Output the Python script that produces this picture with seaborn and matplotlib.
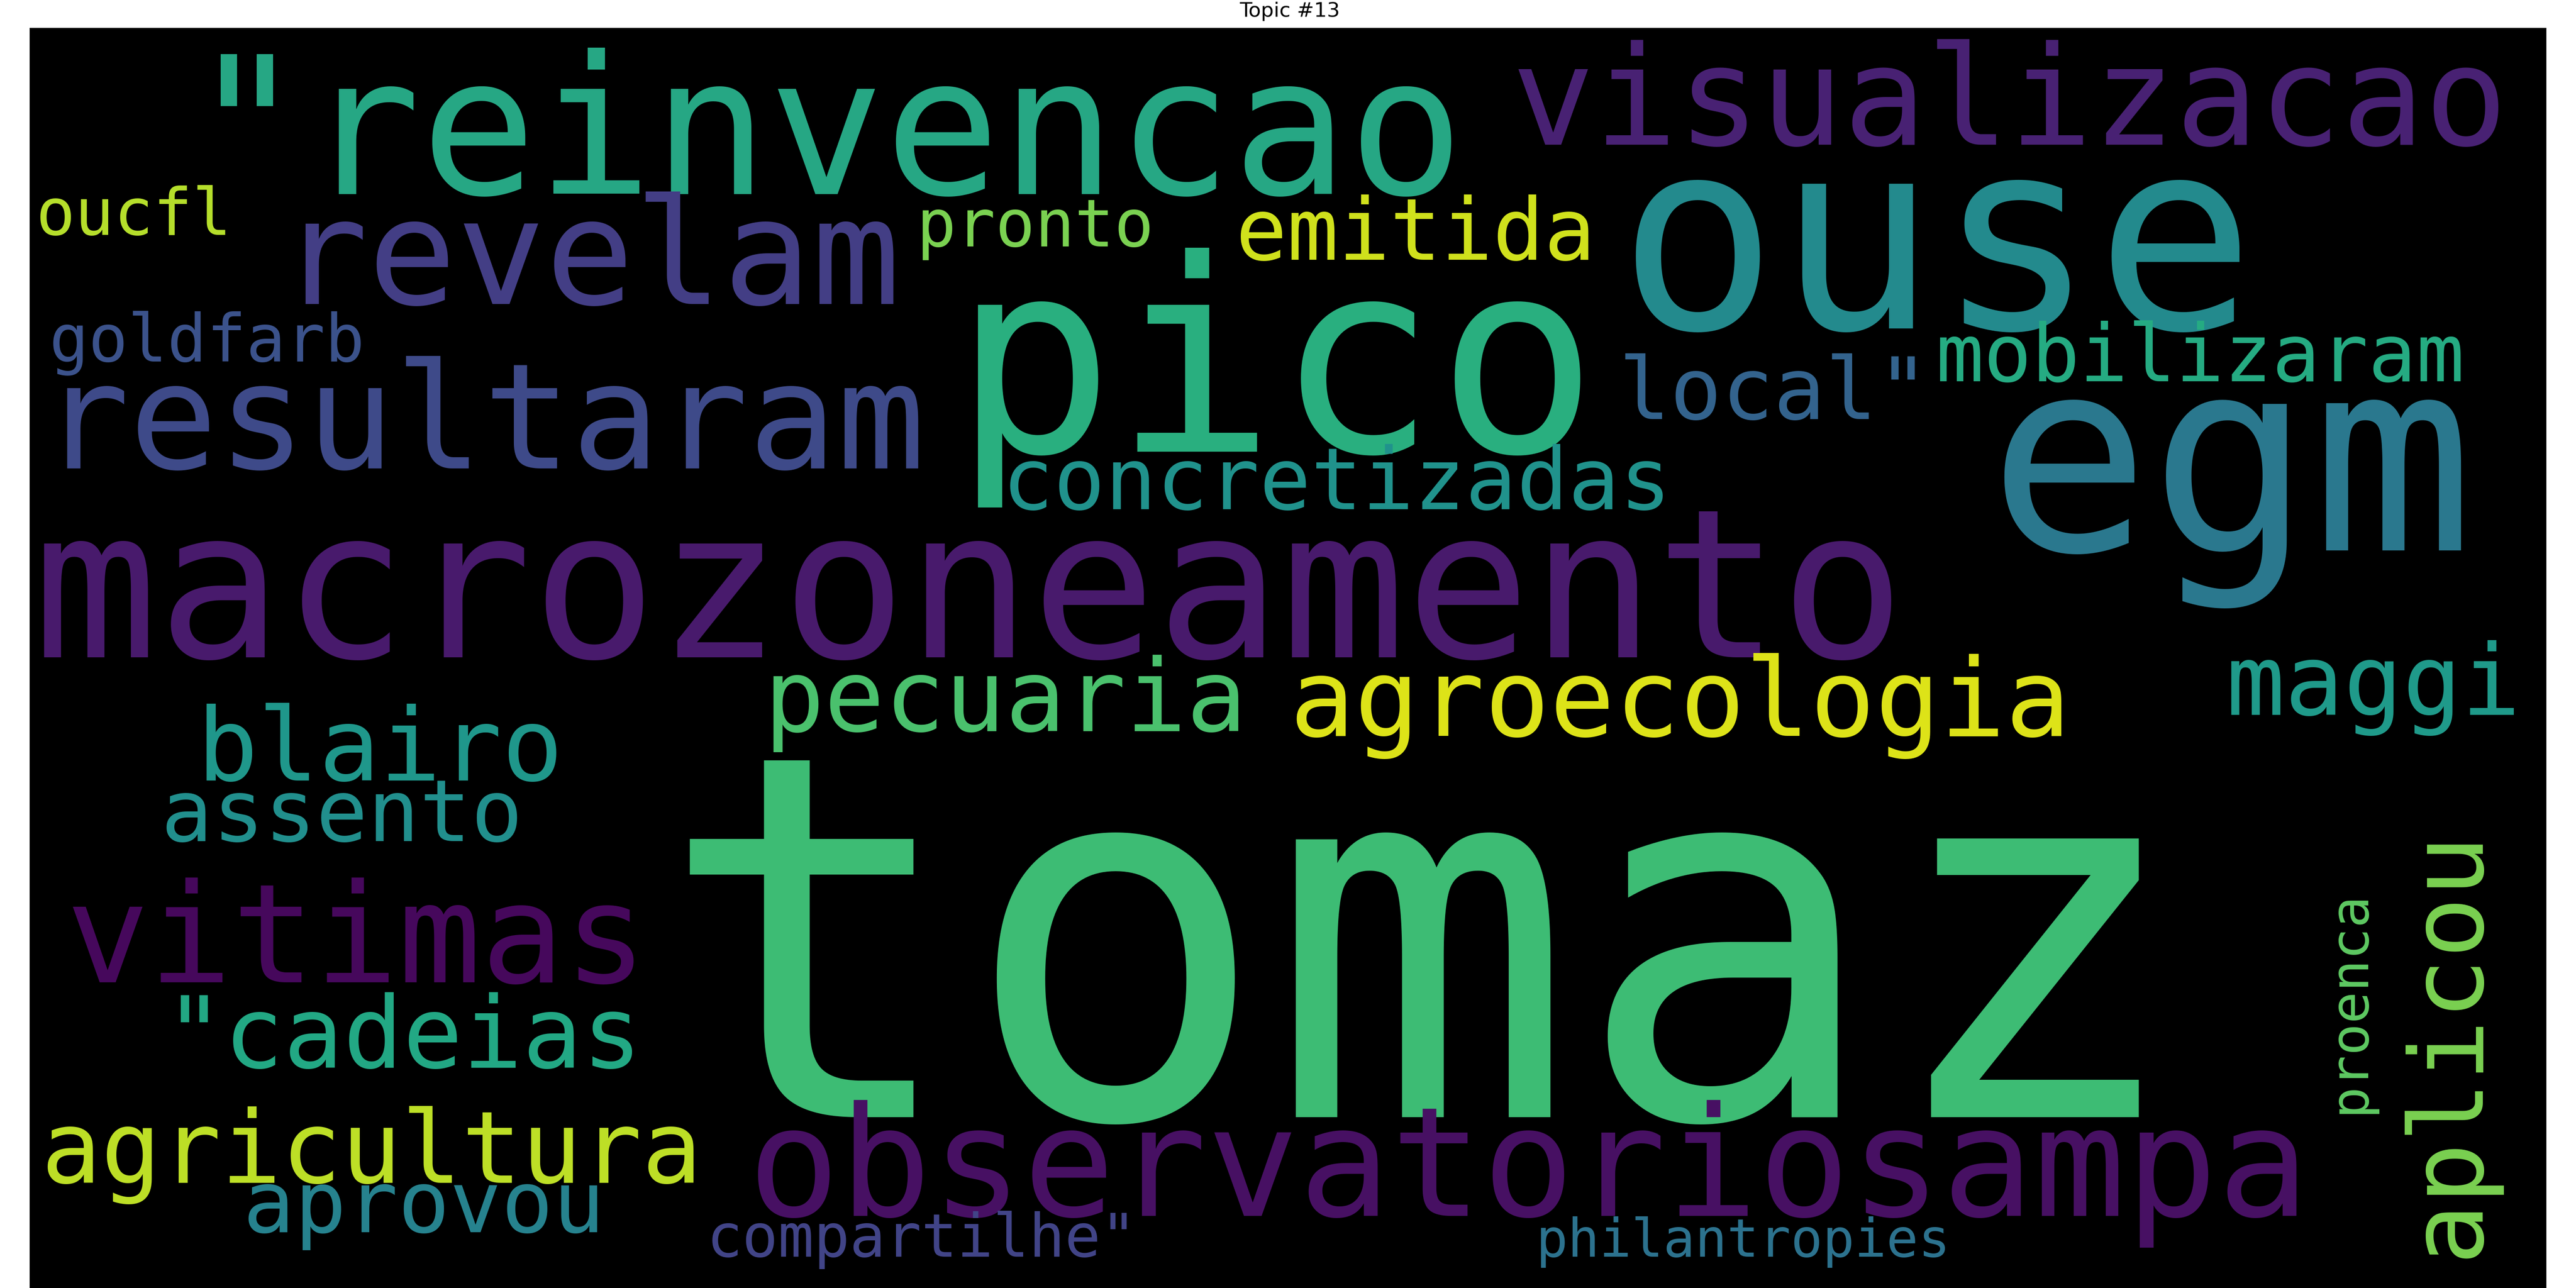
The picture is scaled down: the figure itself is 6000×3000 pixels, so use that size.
import matplotlib.pyplot as plt
import seaborn as sns

sns.set_theme(style="white")
plt.rcParams['font.family'] = ['DejaVu Sans Mono', 'DejaVu Sans']

# word cloud content (reference image measured in 1568x784 preview pixels)
words = ["tomaz", "\"reinvencao", "ouse", "visualizacao", "pico", "egm", "revelam",
         "resultaram", "macrozoneamento", "local\"", "concretizadas", "emitida",
         "pronto", "oucfl", "goldfarb", "mobilizaram", "pecuaria", "agroecologia",
         "maggi", "blairo", "assento", "vitimas", "\"cadeias", "agricultura",
         "aprovou", "observatoriosampa", "aplicou", "proenca", "compartilhe\"",
         "philantropies"]
colors = ["#3dbc74", "#26a784", "#238a8d", "#482173", "#29af7f", "#2a788e", "#433e85",
          "#3e4a89", "#481a6c", "#33638d", "#20928c", "#d0e11c",
          "#7ad151", "#b5de2b", "#3b528b", "#25ab82", "#4ac16d", "#dde318",
          "#1f9a8a", "#1f978b", "#218f8d", "#46085c", "#22a884", "#bddf26",
          "#26828e", "#471063", "#7ad151", "#5ec962", "#414487", "#2c728e"]

# layout: left x, baseline y, text width (or length for vertical words), rotation
left_x = [400, 115, 985, 920, 580, 1210, 170, 25, 20, 985, 610, 752, 558, 22, 30, 1178,
          465, 785, 1355, 120, 98, 40, 100, 25, 148, 455, 1490, 1430, 430, 935]
base_y = [680, 118, 200, 88, 275, 335, 185, 285, 400, 255, 310, 158, 150, 143, 220, 232,
          445, 448, 435, 475, 512, 598, 650, 720, 750, 740, 635, 610, 765, 765]
span = [960, 800, 400, 625, 405, 305, 390, 555, 1175, 195, 420, 226, 149, 123, 198, 332,
        303, 490, 185, 230, 227, 365, 300, 415, 227, 980, 270, 140, 270, 260]
rotation = [0] * 26 + [90, 90] + [0, 0]

PX_PER_PT = 0.363  # preview pixels per point at 6000 px output
ADVANCE = 0.602    # monospace glyph advance in em
SHRINK = 0.97      # DejaVu glyphs sit a bit taller than the original font

fig = plt.figure(figsize=(60, 30), dpi=100)
ax = fig.add_axes([18 / 1568, 0, 1532 / 1568, 767 / 784])
ax.set_facecolor("black")
ax.set_xlim(18, 1550)
ax.set_ylim(784, 17)
ax.set_xticks([])
ax.set_yticks([])
for s in ax.spines.values():
    s.set_visible(False)

for w, c, x, y, sp, r in zip(words, colors, left_x, base_y, span, rotation):
    em = sp / (len(w) * ADVANCE)
    size = em / PX_PER_PT * SHRINK
    if r:
        ax.text(x, y, w, color=c, fontsize=size, rotation=r, ha="center", va="center",
                rotation_mode="anchor")
    else:
        ax.text(x, y, w, color=c, fontsize=size, ha="left", va="baseline")

fig.text(785 / 1568, 1 - 7 / 784, "Topic #13", ha="center", va="center",
         fontsize=34, family=["DejaVu Sans"], color="black")

fig.savefig("out.png", facecolor="white")
